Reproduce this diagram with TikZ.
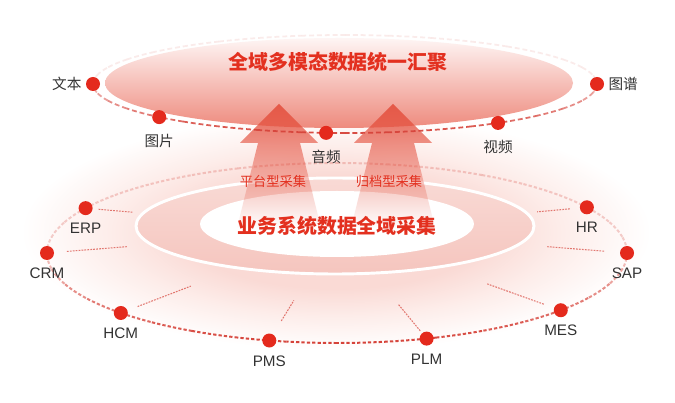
\documentclass[tikz,border=0pt]{standalone}
\usepackage{fontspec}
\setmainfont{Liberation Sans}
\newfontfamily\cjk{Noto Sans CJK SC}
\usetikzlibrary{calc,fadings}
\definecolor{hubred}   {HTML}{E42A1D}
\definecolor{titlered} {HTML}{E3301F}
\definecolor{ringred}  {HTML}{D6433A}
\definecolor{arrowred} {HTML}{E4503E}
\definecolor{bandpink} {HTML}{F5C5BE}
\definecolor{bandlight}{HTML}{F9DAD5}
\definecolor{halopink} {HTML}{FADAD5}
\definecolor{halolight}{HTML}{FDEDEA}
\definecolor{toplight} {HTML}{FEF5F4}
\definecolor{topmid}   {HTML}{F7C3BC}
\definecolor{salmon}   {HTML}{EE8A7D}
\definecolor{labelgray}{HTML}{333333}
\tikzfading[name=fadedown, top color=transparent!10, bottom color=transparent!100]
\pgfdeclareradialshading{lowhalo}{\pgfpoint{0bp}{0bp}}{color(0bp)=(halopink); color(12bp)=(halopink); color(18bp)=(halolight); color(25bp)=(white); color(50bp)=(white)}

\begin{document}
\begin{tikzpicture}[x=0.03cm,y=-0.03cm,
  dot/.style={circle,fill=hubred,minimum size=0.42cm,inner sep=0pt},
  lbl/.style={inner sep=0pt,font=\fontsize{13}{15}\selectfont,text=labelgray},
  cjklbl/.style={inner sep=0pt,font=\cjk\fontsize{12.5}{15}\selectfont,text=labelgray},
  toptrace/.style={dash pattern=on 4.2pt off 2.5pt,line width=1.5pt,ringred},
  lowtrace/.style={dash pattern=on 2.8pt off 1.8pt,line width=1.7pt,ringred},
  spoke/.style={dash pattern=on 1.5pt off 1pt,line width=0.9pt,ringred,opacity=0.7},
  bigarrow/.style={fill=arrowred,path fading=fadedown},
  title/.style={font=\cjk\bfseries\fontsize{17}{20}\selectfont,text=titlered},
  tag/.style={font=\cjk\fontsize{11.3}{13}\selectfont,text=titlered}
]
\useasboundingbox[fill=white] (0,0) rectangle (675,403);
\coordinate (topc) at (345,84);
\coordinate (lowc) at (337,253);
\coordinate (aim)  at (337,230);

% glow under the collection disc
\shade[shading=lowhalo] (336,232) ellipse [x radius=315, y radius=118];

% back half of the lower ring
\foreach \a in {180,190,...,350}
  \draw[lowtrace,opacity=0.25] ($(lowc)+(\a:290 and 90)$)
    arc[start angle=\a,delta angle=10,x radius=290,y radius=90];

% collection disc
\shade[top color=bandlight,bottom color=bandpink,draw=white,line width=2.5pt]
  (335,226) ellipse [x radius=199, y radius=48];
\fill[white] (337,224) ellipse [x radius=137, y radius=33];

% back half of the upper ring
\foreach \a in {180,190,...,350}
  \draw[toptrace,opacity=0.1] ($(topc)+(\a:252 and 49)$)
    arc[start angle=\a,delta angle=10,x radius=252,y radius=49];

% convergence disc
\shade[top color=toplight,middle color=topmid,bottom color=salmon]
  (339,83) ellipse [x radius=234, y radius=45];

% upward arrows
\foreach \cx in {279,393}
  \fill[bigarrow] (\cx,104) -- ({\cx+39},143) -- ({\cx+21},143) -- ({\cx+42},228)
    -- ({\cx-42},228) -- ({\cx-21},143) -- ({\cx-39},143) -- cycle;

% front halves of the rings
\foreach \a in {0,10,...,170}{
  \pgfmathsetmacro\op{0.35+0.6*sin(\a+5)}
  \draw[toptrace,opacity=\op] ($(topc)+(\a:252 and 49)$)
    arc[start angle=\a,delta angle=10,x radius=252,y radius=49];
  \pgfmathsetmacro\op{0.3+0.7*sin(\a+5)}
  \draw[lowtrace,opacity=\op] ($(lowc)+(\a:290 and 90)$)
    arc[start angle=\a,delta angle=10,x radius=290,y radius=90];
}

% data kinds
\node[dot,label={[cjklbl,label distance=3.5pt]left:文本}]   (txt) at ($(topc)+(180:252 and 49)$) {};
\node[dot,label={[cjklbl,label distance=8pt]below:图片}]   (pic) at ($(topc)+(137.5:252 and 49)$) {};
\node[dot,label={[cjklbl,label distance=8pt]below:音频}]   (aud) at ($(topc)+(94.3:252 and 49)$) {};
\node[dot,label={[cjklbl,label distance=8pt]below:视频}]   (vid) at ($(topc)+(52.6:252 and 49)$) {};
\node[dot,label={[cjklbl,label distance=3.5pt]right:图谱}] (kg)  at ($(topc)+(0:252 and 49)$) {};

% business systems
\node[dot,label={[lbl,label distance=6.4pt]below:ERP}] (erp) at ($(lowc)+(209.9:290 and 90)$) {};
\node[dot,label={[lbl,label distance=6.4pt]below:CRM}] (crm) at ($(lowc)+(180:290 and 90)$) {};
\node[dot,label={[lbl,label distance=6.4pt]below:HCM}] (hcm) at ($(lowc)+(138.2:290 and 90)$) {};
\node[dot,label={[lbl,label distance=6.4pt]below:PMS}] (pms) at ($(lowc)+(103.5:290 and 90)$) {};
\node[dot,label={[lbl,label distance=6.4pt]below:PLM}] (plm) at ($(lowc)+(72:290 and 90)$) {};
\node[dot,label={[lbl,label distance=6.4pt]below:MES}] (mes) at ($(lowc)+(39.5:290 and 90)$) {};
\node[dot,label={[lbl,label distance=6.4pt]below:SAP}] (sap) at ($(lowc)+(0:290 and 90)$) {};
\node[dot,label={[lbl,label distance=6.4pt]below:HR}]  (hr)  at ($(lowc)+(329.5:290 and 90)$) {};

% feeder lines
\foreach \n/\s/\e in {erp/0.39/1.44, crm/0.6/2.4, hcm/0.54/2.25, pms/0.69/1.41,
                      plm/0.3/1.35, mes/0.54/2.34, sap/0.69/2.4, hr/0.51/1.5}
  \draw[spoke] ($(\n)!\s cm!(aim)$) -- ($(\n)!\e cm!(aim)$);

\node[title] (sink) at (338,62)  {全域多模态数据统一汇聚};
\node[title] (src)  at (337,226) {业务系统数据全域采集};
\node[tag]   (plat) at (273,181) {平台型采集};
\node[tag]   (arch) at (389,181) {归档型采集};
\end{tikzpicture}
\end{document}
